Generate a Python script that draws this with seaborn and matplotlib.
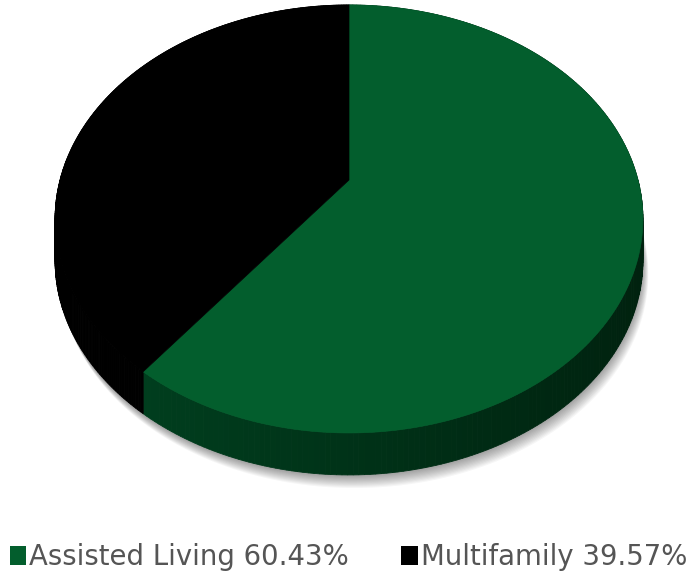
import numpy as np
import matplotlib
matplotlib.use("Agg")
import matplotlib.pyplot as plt
from matplotlib.patches import Polygon, Patch
from matplotlib.colors import to_rgb
import seaborn as sns

# ---- data ----
labels = ["Assisted Living", "Multifamily"]
shares = [60.43, 39.57]
top_colors = ["#035E2D", "#000000"]
side_light = ["#003E1E", "#000000"]
side_dark = ["#00220F", "#000000"]

# ---- style ----
sns.set_theme(style="white")
plt.rcParams["font.family"] = ["DejaVu Sans"]

W, H = 697, 578
fig = plt.figure(figsize=(W / 100, H / 100), dpi=100)
ax = fig.add_axes([0, 0, 1, 1])
ax.set_xlim(0, W)
ax.set_ylim(H, 0)
ax.axis("off")

# perspective model of a tilted disc (pixel space)
CX, CY = 349, 219        # centre of the top ellipse
A, B = 289, 214          # half axes before perspective
E, K = 39, 0.182         # apex shift / perspective strength
DEPTH = 42               # thickness of the disc


def project(phi, drop=0.0):
    x = np.sin(phi)
    y = np.cos(phi)
    w = 1 + K * y
    return np.column_stack([CX + A * x / w, CY - (B * y + E) / w + drop])


# wedge angles (clockwise from 12 o'clock)
vals = np.array(shares, dtype=float)
edges = np.concatenate([[0], np.cumsum(vals) / vals.sum() * 2 * np.pi])

# soft shadow under the disc
full = np.linspace(0, 2 * np.pi, 400)
for i in range(12):
    pts = project(full, DEPTH + 1 + i * 1.1)
    pts[:, 0] += i * 0.5
    ax.add_patch(Polygon(pts, closed=True, facecolor="#000000", alpha=0.035,
                         edgecolor="none", zorder=1))

# side walls, drawn as thin strips: lighter at the left-front cut, darker to the right
for k in range(len(vals)):
    phis = np.linspace(edges[k], edges[k + 1], 240)
    c0 = np.array(to_rgb(side_light[k]))
    c1 = np.array(to_rgb(side_dark[k]))
    xs = project(phis)[:, 0]
    span = max(xs.max() - xs.min(), 1)
    for j in range(len(phis) - 1):
        seg = phis[j:j + 2]
        top = project(seg)
        bot = project(seg[::-1], DEPTH)
        t = (top[:, 0].mean() - xs.min()) / span
        col = c0 * (1 - t) + c1 * t
        ax.add_patch(Polygon(np.vstack([top, bot]), closed=True, facecolor=col,
                             edgecolor=col, linewidth=0.6, zorder=2))

# top faces
apex = np.array([[CX, CY - E]])
for k in range(len(vals)):
    phis = np.linspace(edges[k], edges[k + 1], 300)
    pts = np.vstack([apex, project(phis)])
    ax.add_patch(Polygon(pts, closed=True, facecolor=top_colors[k],
                         edgecolor=top_colors[k], linewidth=0.5, zorder=3))

# legend
handles = [Patch(facecolor=c, edgecolor="none") for c in top_colors]
texts = [f"{lab} {v:.2f}%" for lab, v in zip(labels, shares)]
leg = fig.legend(handles, texts, loc="center", bbox_to_anchor=(0.5, 1 - 557 / H),
                 ncols=2, frameon=False, fontsize=19.8, handlelength=0.6,
                 handleheight=0.7, handletextpad=0.12, columnspacing=1.9,
                 borderaxespad=0)
for t in leg.get_texts():
    t.set_color("#555555")

fig.savefig("out.png", dpi=100, facecolor="white")
